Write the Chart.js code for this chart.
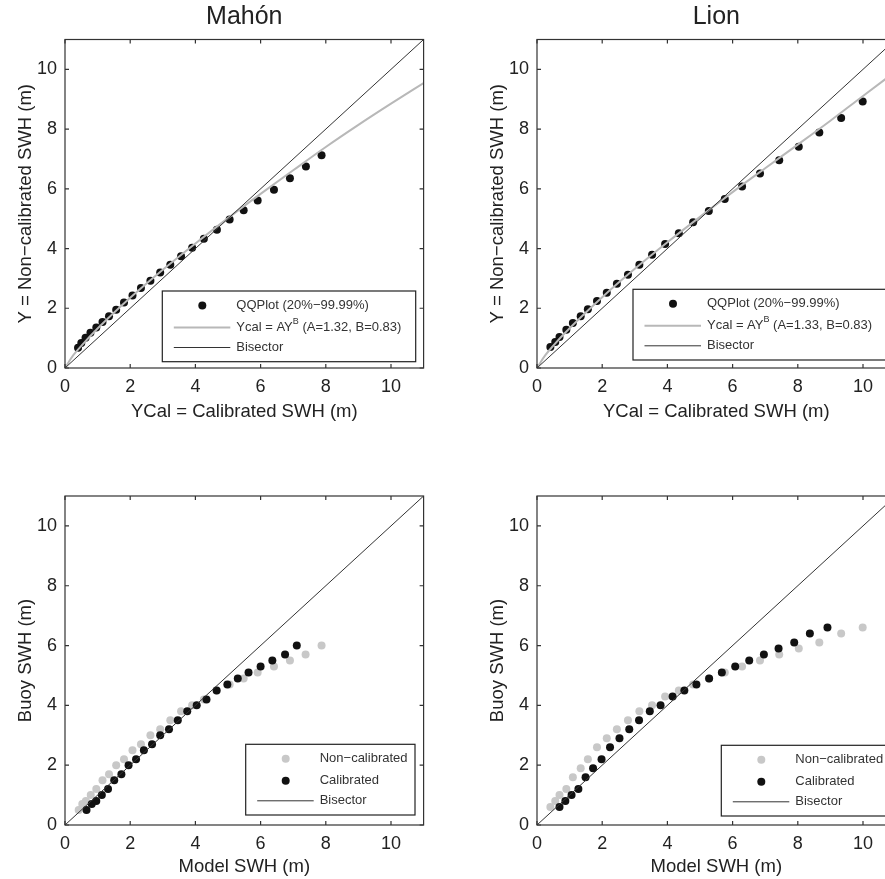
<!DOCTYPE html>
<html>
<head>
<meta charset="utf-8">
<script src="https://cdn.jsdelivr.net/npm/chart.js@4"></script>
<style>
  html, body { margin: 0; padding: 0; background: #fff; overflow: hidden; }
  canvas { position: absolute; }
</style>
</head>
<body>
<canvas id="mahonTop" width="442" height="430" style="left:0;top:0"></canvas>
<canvas id="lionTop" width="442" height="430" style="left:472px;top:0"></canvas>
<canvas id="mahonBottom" width="442" height="447" style="left:0;top:440px"></canvas>
<canvas id="lionBottom" width="442" height="447" style="left:472px;top:440px"></canvas>
<script>
// axis ticks (both axes, all panels)
var tickValues = [0, 2, 4, 6, 8, 10];
var bisector = [0, 11];

// Mahón - QQ plot, calibrated vs non-calibrated model
var mahonYcal = [0.40, 0.50, 0.63, 0.78, 0.96, 1.15, 1.35, 1.57, 1.81, 2.07, 2.33, 2.62, 2.92, 3.23, 3.56, 3.90, 4.26, 4.66, 5.05, 5.48, 5.91, 6.41, 6.90, 7.39, 7.87];
var mahonY    = [0.68, 0.84, 1.01, 1.18, 1.36, 1.54, 1.73, 1.95, 2.19, 2.43, 2.68, 2.92, 3.20, 3.46, 3.74, 4.03, 4.33, 4.63, 4.97, 5.28, 5.61, 5.97, 6.35, 6.75, 7.12];
// Lion - QQ plot
var lionYcal = [0.41, 0.56, 0.69, 0.90, 1.10, 1.34, 1.56, 1.84, 2.14, 2.45, 2.79, 3.14, 3.53, 3.93, 4.35, 4.79, 5.27, 5.76, 6.29, 6.84, 7.43, 8.03, 8.66, 9.33, 9.99];
var lionY    = [0.70, 0.87, 1.04, 1.28, 1.51, 1.73, 1.97, 2.24, 2.52, 2.82, 3.12, 3.46, 3.79, 4.15, 4.51, 4.88, 5.26, 5.66, 6.08, 6.51, 6.96, 7.41, 7.89, 8.37, 8.92];

// fitted curves Ycal = A*Y^B
var fitX       = [0, 0.25, 0.5, 1, 2, 3, 4, 5, 6, 7, 8, 9, 10, 11];
var mahonFitY  = [0, 0.42, 0.74, 1.32, 2.35, 3.29, 4.17, 5.02, 5.83, 6.62, 7.40, 8.14, 8.85, 9.54];
var lionFitY   = [0, 0.42, 0.75, 1.33, 2.37, 3.32, 4.21, 5.06, 5.89, 6.69, 7.48, 8.28, 9.11, 9.93];

// buoy vs model quantiles
var mahonBuoy   = [0.5, 0.7, 0.8, 1.0, 1.2, 1.5, 1.7, 2.0, 2.2, 2.5, 2.7, 3.0, 3.2, 3.5, 3.8, 4.0, 4.2, 4.5, 4.7, 4.9, 5.1, 5.3, 5.5, 5.7, 6.0];
var mahonNonCal = [0.42, 0.53, 0.64, 0.79, 0.96, 1.15, 1.35, 1.57, 1.81, 2.07, 2.33, 2.62, 2.92, 3.23, 3.56, 3.90, 4.26, 4.66, 5.05, 5.48, 5.91, 6.41, 6.90, 7.38, 7.87];
var mahonCal    = [0.66, 0.82, 0.96, 1.13, 1.32, 1.51, 1.73, 1.95, 2.18, 2.42, 2.67, 2.92, 3.19, 3.46, 3.75, 4.04, 4.34, 4.65, 4.98, 5.30, 5.63, 6.00, 6.36, 6.75, 7.11];
var lionBuoy    = [0.6, 0.8, 1.0, 1.2, 1.6, 1.9, 2.2, 2.6, 2.9, 3.2, 3.5, 3.8, 4.0, 4.3, 4.5, 4.7, 4.9, 5.1, 5.3, 5.5, 5.7, 5.9, 6.1, 6.4, 6.6];
var lionNonCal  = [0.41, 0.56, 0.69, 0.90, 1.10, 1.34, 1.56, 1.84, 2.14, 2.45, 2.79, 3.14, 3.53, 3.93, 4.35, 4.79, 5.27, 5.76, 6.29, 6.84, 7.43, 8.03, 8.66, 9.33, 9.99];
var lionCal     = [0.69, 0.87, 1.06, 1.27, 1.49, 1.72, 1.98, 2.24, 2.53, 2.83, 3.13, 3.46, 3.79, 4.16, 4.52, 4.89, 5.28, 5.67, 6.08, 6.51, 6.96, 7.41, 7.89, 8.37, 8.91];

Chart.defaults.font.family = '"Liberation Sans", Arial, Helvetica, sans-serif';
Chart.defaults.color = '#222';

function pts(xs, ys) {
  return xs.map(function (x, i) { return { x: x, y: ys[i] }; });
}

// box with inward ticks on all four sides (matlab style)
var framePlugin = {
  id: 'frame',
  afterDatasetsDraw: function (chart) {
    var ctx = chart.ctx, a = chart.chartArea, sx = chart.scales.x, sy = chart.scales.y;
    ctx.save();
    ctx.strokeStyle = '#333';
    ctx.lineWidth = 1.2;
    ctx.strokeRect(a.left, a.top, a.right - a.left, a.bottom - a.top);
    ctx.beginPath();
    sx.ticks.forEach(function (t) {
      var p = sx.getPixelForValue(t.value);
      ctx.moveTo(p, a.bottom); ctx.lineTo(p, a.bottom - 4);
      ctx.moveTo(p, a.top); ctx.lineTo(p, a.top + 4);
    });
    sy.ticks.forEach(function (t) {
      var p = sy.getPixelForValue(t.value);
      ctx.moveTo(a.left, p); ctx.lineTo(a.left + 4, p);
      ctx.moveTo(a.right, p); ctx.lineTo(a.right - 4, p);
    });
    ctx.stroke();
    ctx.restore();
  }
};

// legend drawn inside the plot, lower right corner
var boxLegend = {
  id: 'boxLegend',
  afterDraw: function (chart, args, opts) {
    var ctx = chart.ctx, a = chart.chartArea;
    var left = a.left + opts.left, top = a.bottom - opts.bottom - opts.height;
    var rows = [14.5, 36.5, 56.5];
    ctx.save();
    ctx.fillStyle = '#fff';
    ctx.fillRect(left, top, opts.width, opts.height);
    ctx.strokeStyle = '#222';
    ctx.lineWidth = 1.2;
    ctx.strokeRect(left, top, opts.width, opts.height);
    chart.data.datasets.forEach(function (ds, i) {
      var yy = top + rows[i];
      if (ds.showLine) {
        ctx.strokeStyle = ds.borderColor;
        ctx.lineWidth = ds.borderWidth;
        ctx.beginPath();
        ctx.moveTo(left + 11.5, yy);
        ctx.lineTo(left + 68, yy);
        ctx.stroke();
      } else {
        ctx.fillStyle = ds.pointBackgroundColor;
        ctx.beginPath();
        ctx.arc(left + 40, yy, 4, 0, Math.PI * 2);
        ctx.fill();
      }
      // "^X" marks a superscript
      var parts = ds.label.split(/\^(\w)/);
      var x = left + 74;
      ctx.fillStyle = '#333';
      ctx.textBaseline = 'middle';
      parts.forEach(function (p, k) {
        if (k % 2) {
          ctx.font = '9px "Liberation Sans", Arial, sans-serif';
          ctx.fillText(p, x, yy - 6);
        } else {
          ctx.font = '13px "Liberation Sans", Arial, sans-serif';
          ctx.fillText(p, x, yy);
        }
        x += ctx.measureText(p).width;
      });
    });
    ctx.restore();
  }
};

function makePanel(id, cfg) {
  return new Chart(document.getElementById(id), {
    type: 'scatter',
    data: { datasets: cfg.datasets },
    plugins: [framePlugin, boxLegend],
    options: {
      responsive: false,
      animation: false,
      events: [],
      layout: { padding: { left: 0, right: 18.4, top: cfg.padTop, bottom: 0 } },
      plugins: {
        legend: { display: false },
        tooltip: { enabled: false },
        title: {
          display: !!cfg.title,
          text: cfg.title || '',
          fullSize: false,
          font: { size: 25, weight: 'normal' },
          color: '#222',
          padding: { top: 2, bottom: 7.5 }
        },
        boxLegend: cfg.legend
      },
      scales: {
        x: {
          type: 'linear', min: 0, max: 11,
          afterBuildTicks: function (s) { s.ticks = tickValues.map(function (v) { return { value: v }; }); },
          ticks: { padding: 0, font: { size: 18 }, color: '#222', maxRotation: 0 },
          grid: { display: false },
          border: { display: false },
          title: { display: true, text: cfg.xTitle, font: { size: 18.5 }, color: '#222', padding: { top: 0, bottom: cfg.xTitlePad } },
          afterFit: function (s) { s.height = 62; }
        },
        y: {
          type: 'linear', min: 0, max: 11,
          afterBuildTicks: function (s) { s.ticks = tickValues.map(function (v) { return { value: v }; }); },
          ticks: { padding: 0, font: { size: 18 }, color: '#222' },
          grid: { display: false },
          border: { display: false },
          title: { display: true, text: cfg.yTitle, font: { size: 18.5 }, color: '#222', padding: { top: 14.5, bottom: 0 } },
          afterFit: function (s) { s.width = 65; }
        }
      }
    }
  });
}

function qqSets(xs, ys, fitY, fitLabel) {
  return [
    { label: 'QQPlot (20%−99.99%)', data: pts(xs, ys), pointRadius: 4, pointBackgroundColor: '#111', pointBorderWidth: 0, order: 2 },
    { label: fitLabel, data: pts(fitX, fitY), showLine: true, borderColor: '#b8b8b8', borderWidth: 2, pointRadius: 0, cubicInterpolationMode: 'monotone', order: 1 },
    { label: 'Bisector', data: pts(bisector, bisector), showLine: true, borderColor: '#333', borderWidth: 1, pointRadius: 0, order: 0 }
  ];
}

function buoySets(nonCal, cal, buoy) {
  return [
    { label: 'Non−calibrated', data: pts(nonCal, buoy), pointRadius: 4, pointBackgroundColor: '#c8c8c8', pointBorderWidth: 0, order: 2 },
    { label: 'Calibrated', data: pts(cal, buoy), pointRadius: 4, pointBackgroundColor: '#111', pointBorderWidth: 0, order: 1 },
    { label: 'Bisector', data: pts(bisector, bisector), showLine: true, borderColor: '#333', borderWidth: 1, pointRadius: 0, order: 0 }
  ];
}

makePanel('mahonTop', {
  title: 'Mahón', padTop: 0, xTitlePad: 6.9,
  xTitle: 'YCal = Calibrated SWH (m)', yTitle: 'Y = Non−calibrated SWH (m)',
  datasets: qqSets(mahonYcal, mahonY, mahonFitY, 'Ycal = AY^B (A=1.32, B=0.83)'),
  legend: { left: 97.3, bottom: 6.3, width: 253.4, height: 70.7 }
});
makePanel('lionTop', {
  title: 'Lion', padTop: 0, xTitlePad: 6.9,
  xTitle: 'YCal = Calibrated SWH (m)', yTitle: 'Y = Non−calibrated SWH (m)',
  datasets: qqSets(lionYcal, lionY, lionFitY, 'Ycal = AY^B (A=1.33, B=0.83)'),
  legend: { left: 96, bottom: 8, width: 253.4, height: 70.7 }
});
makePanel('mahonBottom', {
  title: null, padTop: 56, xTitlePad: 8.9,
  xTitle: 'Model SWH (m)', yTitle: 'Buoy SWH (m)',
  datasets: buoySets(mahonNonCal, mahonCal, mahonBuoy),
  legend: { left: 180.7, bottom: 10, width: 169.3, height: 70.7 }
});
makePanel('lionBottom', {
  title: null, padTop: 56, xTitlePad: 8.9,
  xTitle: 'Model SWH (m)', yTitle: 'Buoy SWH (m)',
  datasets: buoySets(lionNonCal, lionCal, lionBuoy),
  legend: { left: 184.3, bottom: 9, width: 169.3, height: 70.7 }
});
</script>
</body>
</html>
